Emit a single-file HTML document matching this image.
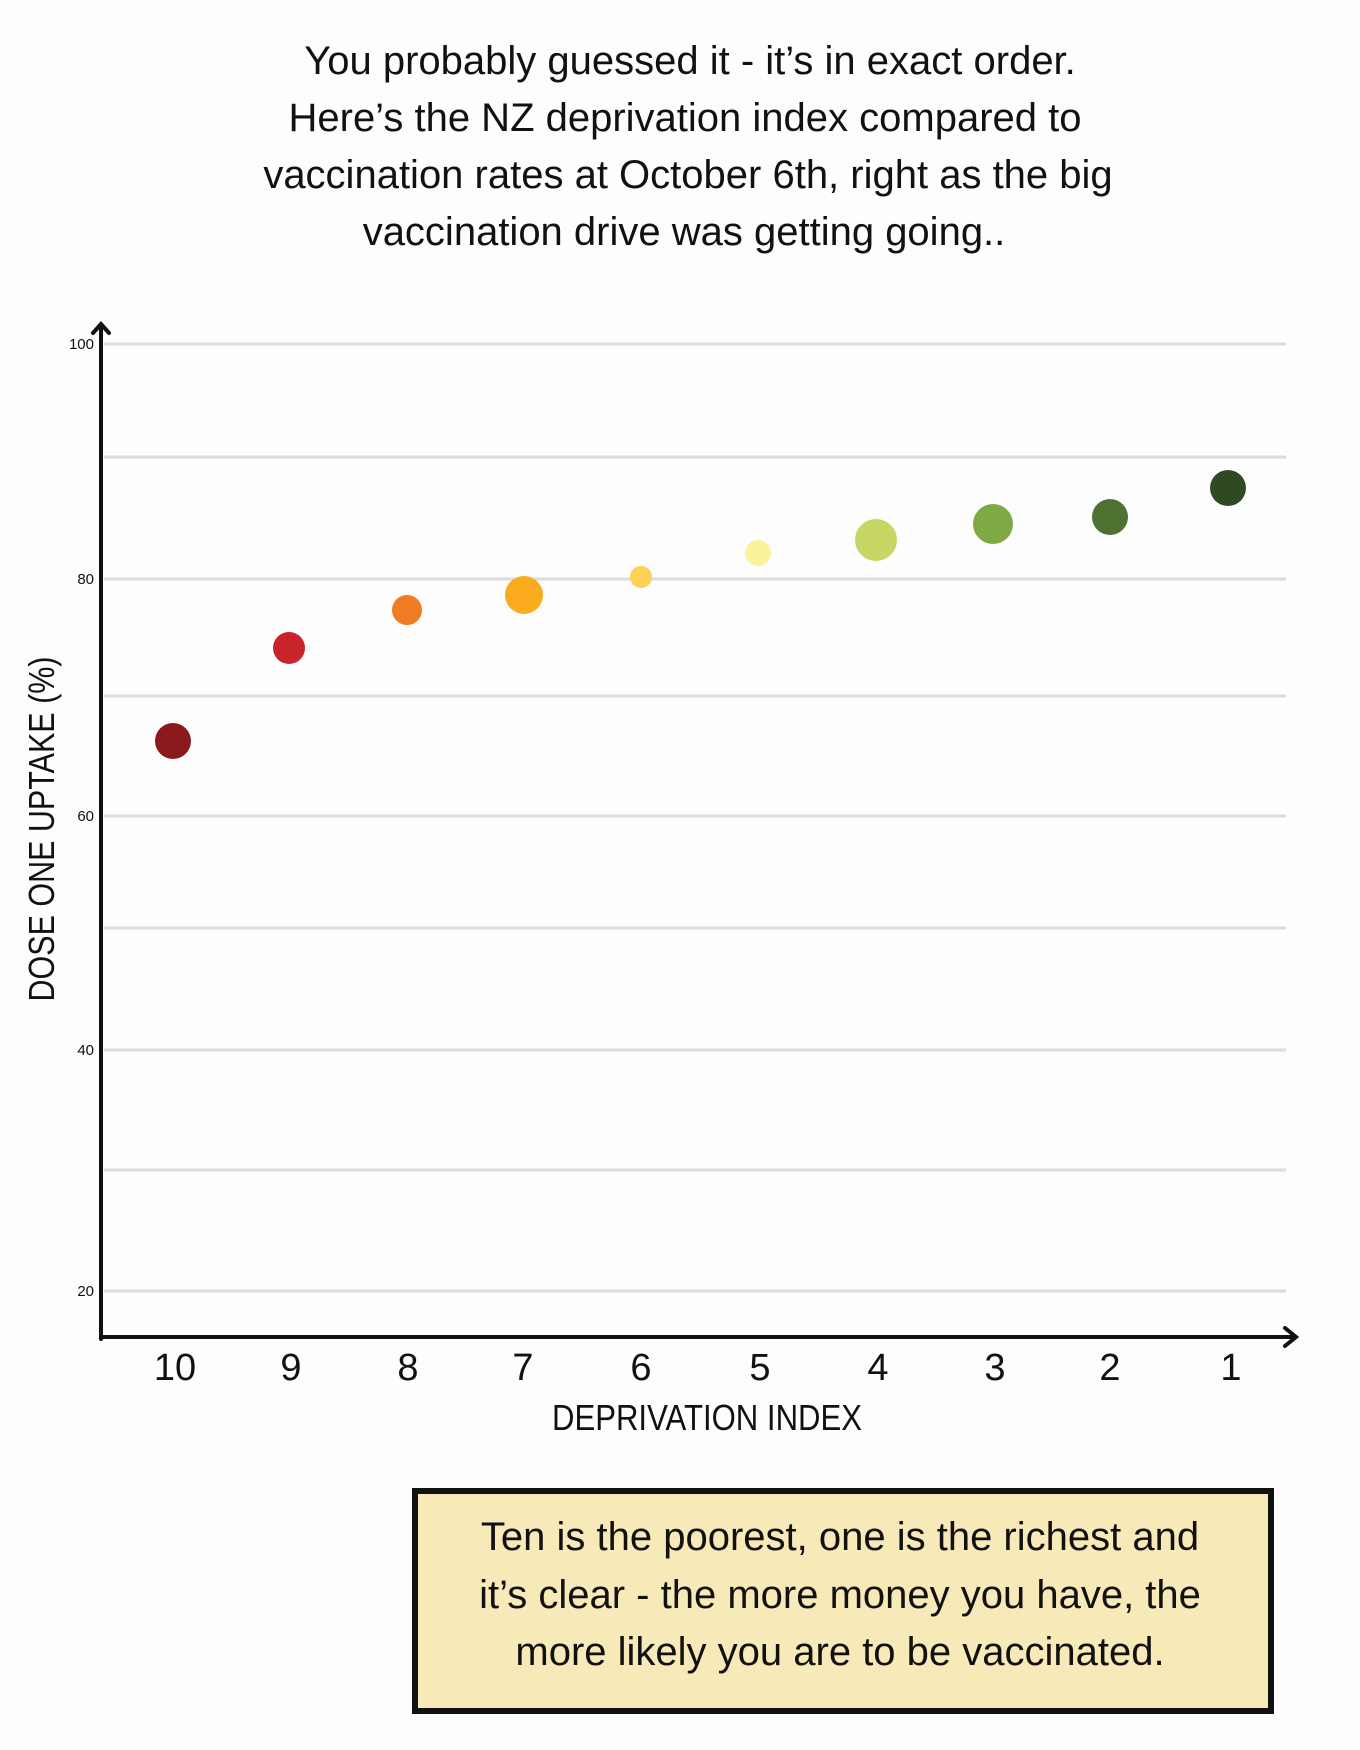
<!DOCTYPE html>
<html><head><meta charset="utf-8"><style>
html,body{margin:0;padding:0;background:#fdfdfd;}
svg{display:block}
text{font-family:"Liberation Sans Narrow","Liberation Sans",sans-serif;fill:#111}
</style></head><body>
<svg width="1360" height="1750" viewBox="0 0 1360 1750" xmlns="http://www.w3.org/2000/svg">
<rect width="1360" height="1750" fill="#fdfdfd"/>
<g font-size="40" text-anchor="middle">
<text x="690" y="74">You probably guessed it - it’s in exact order.</text>
<text x="685" y="131">Here’s the NZ deprivation index compared to</text>
<text x="688" y="188">vaccination rates at October 6th, right as the big</text>
<text x="684" y="245">vaccination drive was getting going..</text>
</g>
<g stroke="#dcdcdc" stroke-width="3">
<line x1="104" y1="344" x2="1286" y2="344"/>
<line x1="104" y1="457" x2="1286" y2="457"/>
<line x1="104" y1="579" x2="1286" y2="579"/>
<line x1="104" y1="696" x2="1286" y2="696"/>
<line x1="104" y1="816" x2="1286" y2="816"/>
<line x1="104" y1="928" x2="1286" y2="928"/>
<line x1="104" y1="1050" x2="1286" y2="1050"/>
<line x1="104" y1="1170" x2="1286" y2="1170"/>
<line x1="104" y1="1291" x2="1286" y2="1291"/>
</g>
<g font-size="15" text-anchor="end">
<text x="94" y="349">100</text>
<text x="94" y="584">80</text>
<text x="94" y="821">60</text>
<text x="94" y="1055">40</text>
<text x="94" y="1296">20</text>
</g>
<g stroke="#111" stroke-width="4" fill="none" stroke-linecap="round">
<line x1="101" y1="325" x2="101" y2="1339"/>
<polyline points="93,333 101,324 109,333"/>
<line x1="101" y1="1337" x2="1293" y2="1337"/>
<polyline points="1285,1328 1296,1337 1285,1346"/>
</g>
<circle cx="173" cy="741" r="18" fill="#8b1a1e"/>
<circle cx="289" cy="648" r="16" fill="#c8242b"/>
<circle cx="407" cy="610" r="15" fill="#f07d23"/>
<circle cx="524" cy="595" r="19" fill="#fbab1e"/>
<circle cx="641" cy="577" r="11" fill="#fdd057"/>
<circle cx="758" cy="553" r="13" fill="#fbf29b"/>
<circle cx="876" cy="540" r="21" fill="#c8d665"/>
<circle cx="993" cy="524" r="20" fill="#7fa945"/>
<circle cx="1110" cy="517" r="18" fill="#4d7232"/>
<circle cx="1228" cy="488" r="18" fill="#2f4a22"/>
<g font-size="38" text-anchor="middle">
<text x="175" y="1380">10</text><text x="291" y="1380">9</text><text x="408" y="1380">8</text>
<text x="523" y="1380">7</text><text x="641" y="1380">6</text><text x="760" y="1380">5</text>
<text x="878" y="1380">4</text><text x="995" y="1380">3</text><text x="1110" y="1380">2</text>
<text x="1231" y="1380">1</text>
</g>
<text x="707" y="1430" font-size="36" text-anchor="middle" textLength="310" lengthAdjust="spacingAndGlyphs">DEPRIVATION INDEX</text>
<text transform="translate(54,829) rotate(-90)" font-size="36" text-anchor="middle" textLength="345" lengthAdjust="spacingAndGlyphs">DOSE ONE UPTAKE (%)</text>
<rect x="415" y="1491" width="856" height="220" fill="#f8e9b8" stroke="#111" stroke-width="6"/>
<g font-size="40" text-anchor="middle">
<text x="840" y="1550">Ten is the poorest, one is the richest and</text>
<text x="840" y="1608">it’s clear - the more money you have, the</text>
<text x="840" y="1665">more likely you are to be vaccinated.</text>
</g>
</svg>
</body></html>
